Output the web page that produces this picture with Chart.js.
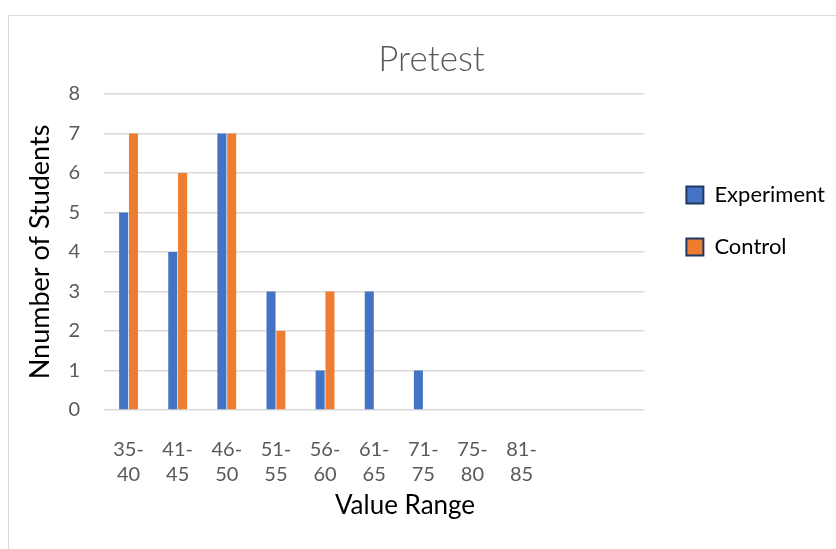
<!DOCTYPE html>
<html>
<head>
<meta charset="utf-8">
<script src="https://cdn.jsdelivr.net/npm/chart.js@4.4.0/dist/chart.umd.min.js"></script>
<style>
  html, body { margin: 0; padding: 0; background: #fff; }
  #wrap { position: relative; width: 836px; height: 549px; overflow: hidden; }
  #frame { position: absolute; left: 8px; top: 15px; width: 900px; height: 600px; border: 1px solid #d9d9d9; }
  #c { position: absolute; left: 0; top: 0; }
</style>
</head>
<body>
<div id="wrap">
  <div id="frame"></div>
  <canvas id="c" width="836" height="549"></canvas>
</div>
<script>
// value ranges (two-line tick labels), last two slots are empty
const categories = [
    ['35-', '40'], ['41-', '45'], ['46-', '50'], ['51-', '55'], ['56-', '60'],
    ['61-', '65'], ['71-', '75'], ['75-', '80'], ['81-', '85'], '', ''
];
const experiment = [5, 4, 7, 3, 1, 3, 1, 0, 0, null, null];
const control = [7, 6, 7, 2, 3, 0, 0, 0, 0, null, null];
const yTicks = [0, 1, 2, 3, 4, 5, 6, 7, 8];

const FONT = 'Lato, "Open Sans", sans-serif';

// x axis title drawn by hand so it sits where the original has it,
// and nudge title / legend boxes to the spots used in the original
const tweakPlugin = {
    id: 'tweaks',
    afterLayout(chart) {
        const lg = chart.legend;
        lg.left += 12; lg.right += 12;
        lg.top += 136; lg.bottom += 136;
        chart.titleBlock.left += 8;
        chart.titleBlock.right += 8;
    },
    afterDraw(chart) {
        const ctx = chart.ctx;
        ctx.save();
        ctx.font = '26px ' + FONT;
        ctx.fillStyle = '#000';
        ctx.textAlign = 'center';
        ctx.textBaseline = 'middle';
        ctx.fillText('Value Range', 405, 506);
        ctx.restore();
    }
};

const ctx = document.getElementById('c').getContext('2d');
new Chart(ctx, {
    type: 'bar',
    data: {
        labels: categories,
        datasets: [{
            label: 'Experiment',
            data: experiment,
            backgroundColor: '#4472c4',
            barPercentage: 0.92,
            categoryPercentage: 0.4
        }, {
            label: 'Control',
            data: control,
            backgroundColor: '#ed7d31',
            barPercentage: 0.92,
            categoryPercentage: 0.4
        }]
    },
    options: {
        responsive: false,
        animation: false,
        layout: { padding: { left: 24, right: 13, top: 18, bottom: 0 } },
        plugins: {
            title: {
                display: true,
                text: 'Pretest',
                color: '#595959',
                font: { family: FONT, size: 35, weight: '300', lineHeight: 1.2 },
                padding: { top: 21, bottom: 13 }
            },
            legend: {
                position: 'right',
                align: 'start',
                labels: {
                    boxWidth: 17,
                    boxHeight: 17,
                    padding: 30,
                    color: '#000',
                    font: { family: FONT, size: 22 },
                    generateLabels(chart) {
                        return chart.data.datasets.map((ds, i) => ({
                            text: ds.label,
                            fillStyle: ds.backgroundColor,
                            strokeStyle: '#1f3864',
                            lineWidth: 2,
                            datasetIndex: i
                        }));
                    }
                }
            },
            tooltip: { enabled: false }
        },
        scales: {
            x: {
                afterFit(scale) { scale.height = 139; },
                grid: { display: false },
                border: { display: false },
                ticks: {
                    color: '#595959',
                    font: { family: FONT, size: 20, lineHeight: 1.25 },
                    padding: 19,
                    maxRotation: 0,
                    autoSkip: false
                }
            },
            y: {
                min: 0,
                max: 8,
                afterFit(scale) { scale.width = 80; },
                afterBuildTicks(scale) {
                    scale.ticks = yTicks.map(v => ({ value: v }));
                },
                grid: { color: '#d9d9d9', lineWidth: 1.5, drawTicks: false },
                border: { display: false },
                ticks: {
                    color: '#595959',
                    font: { family: FONT, size: 20 },
                    padding: 24
                },
                title: {
                    display: true,
                    text: 'Nnumber of Students',
                    color: '#000',
                    font: { family: FONT, size: 27, lineHeight: 1.2 },
                    padding: { top: 0, bottom: 0 }
                }
            }
        }
    },
    plugins: [tweakPlugin]
});
</script>
</body>
</html>
